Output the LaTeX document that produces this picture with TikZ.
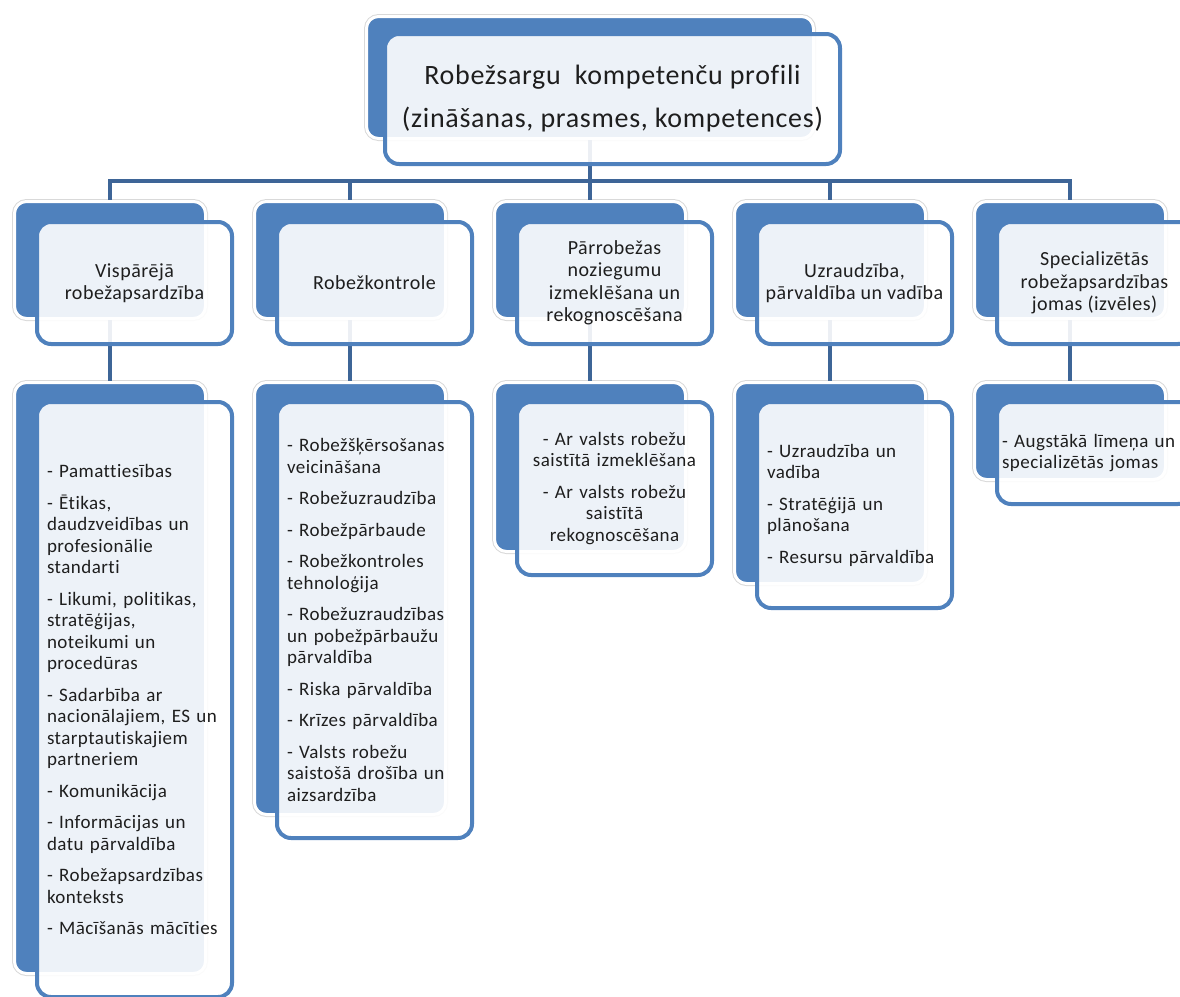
\documentclass[tikz,border=0pt]{standalone}
\usepackage{fontspec}
\setmainfont{Carlito}[Ligatures=NoCommon,LetterSpace=2.5]
\definecolor{boxblue}{HTML}{4F81BD}
\definecolor{linkblue}{HTML}{3E6597}
\definecolor{textgray}{HTML}{1E1E1E}
\begin{document}
\begin{tikzpicture}[x=1pt,y=-1pt,
  back node/.style={rectangle,rounded corners=12pt,fill=boxblue,draw=white,line width=3pt,
    preaction={draw=black!15,line width=5pt},inner sep=0pt,anchor=north west,minimum width=191pt},
  front node/.style={rectangle,rounded corners=14pt,fill=white,fill opacity=0.9,text opacity=1,
    draw=boxblue,line width=4pt,anchor=north west,minimum width=195pt,text=textgray,
    font=\fontsize{20}{22.5}\selectfont},
  list node/.style={front node,align=left,text width=175pt,inner xsep=10pt,
    font=\fontsize{19}{21.5}\selectfont},
  link/.style={draw=linkblue,line width=4pt}]
  \useasboundingbox (0,0) rectangle (1180,996);

  % back boxes
  \node[back node,minimum width=447pt,minimum height=122pt] (b0) at (365,15) {};
  \node[back node,minimum height=117pt] (b1) at (13,200) {};
  \node[back node,minimum height=117pt] (b2) at (253,200) {};
  \node[back node,minimum height=117pt] (b3) at (493,200) {};
  \node[back node,minimum height=117pt] (b4) at (733,200) {};
  \node[back node,minimum height=117pt] (b5) at (973,200) {};
  \node[back node,minimum height=591pt] (b11) at (13,381) {};
  \node[back node,minimum height=432pt] (b21) at (253,381) {};
  \node[back node,minimum height=169pt] (b31) at (493,381) {};
  \node[back node,minimum height=201pt] (b41) at (733,381) {};
  \node[back node,minimum height=97pt] (b51) at (973,381) {};

  % connectors
  \draw[link] (b0.south) -- ++(0,41) coordinate (bar);
  \draw[link] (bar) -| (b1.north);
  \draw[link] (bar) -| (b2.north);
  \draw[link] (bar) -- (b3.north);
  \draw[link] (bar) -| (b4.north);
  \draw[link] (bar) -| (b5.north);
  \draw[link] (b1.south) -- (b11.north);
  \draw[link] (b2.south) -- (b21.north);
  \draw[link] (b3.south) -- (b31.north);
  \draw[link] (b4.south) -- (b41.north);
  \draw[link] (b5.south) -- (b51.north);

  % front boxes
  \node[front node,minimum width=455pt,minimum height=130pt,align=center,
    font=\fontsize{28}{43}\selectfont] (0) at (383,32)
    {Robežsargu~ kompetenču profili\\(zināšanas, prasmes, kompetences)};
  \node[front node,minimum height=122pt,align=center] (1) at (35,220) {Vispārējā\\robežapsardzība};
  \node[front node,minimum height=122pt,align=center] (2) at (275,220) {Robežkontrole};
  \node[front node,minimum height=122pt,align=center] (3) at (515,220)
    {Pārrobežas\\noziegumu\\izmeklēšana un\\rekognoscēšana};
  \node[front node,minimum height=122pt,align=center] (4) at (755,220) {Uzraudzība,\\pārvaldība un vadība};
  \node[front node,minimum height=122pt,align=center] (5) at (995,220)
    {Specializētās\\robežapsardzības\\jomas (izvēles)};

  \node[list node,minimum height=595pt] (11) at (35,400)
    {- Pamattiesības\\[10pt]
     - Ētikas,\\daudzveidības un\\profesionālie\\standarti\\[10pt]
     - Likumi, politikas,\\stratēģijas,\\noteikumi un\\procedūras\\[10pt]
     - Sadarbība ar\\nacionālajiem, ES un\\starptautiskajiem\\partneriem\\[10pt]
     - Komunikācija\\[10pt]
     - Informācijas un\\datu pārvaldība\\[10pt]
     - Robežapsardzības\\konteksts\\[10pt]
     - Mācīšanās mācīties};
  \node[list node,minimum height=436pt] (21) at (275,400)
    {- Robežšķērsošanas\\veicināšana\\[10pt]
     - Robežuzraudzība\\[10pt]
     - Robežpārbaude\\[10pt]
     - Robežkontroles\\tehnoloģija\\[10pt]
     - Robežuzraudzības\\un pobežpārbaužu\\pārvaldība\\[10pt]
     - Riska pārvaldība\\[10pt]
     - Krīzes pārvaldība\\[10pt]
     - Valsts robežu\\saistošā drošība un\\aizsardzība};
  \node[list node,minimum height=173pt,align=center] (31) at (515,400)
    {- Ar valsts robežu\\saistītā izmeklēšana\\[10pt]
     - Ar valsts robežu\\saistītā\\rekognoscēšana};
  \node[list node,minimum height=206pt] (41) at (755,400)
    {- Uzraudzība un\\vadība\\[10pt]
     - Stratēģijā un\\plānošana\\[10pt]
     - Resursu pārvaldība};
  \node[list node,minimum height=102pt,text width=185pt,inner xsep=5pt] (51) at (995,400)
    {- Augstākā līmeņa un\\specializētās jomas};
\end{tikzpicture}
\end{document}
